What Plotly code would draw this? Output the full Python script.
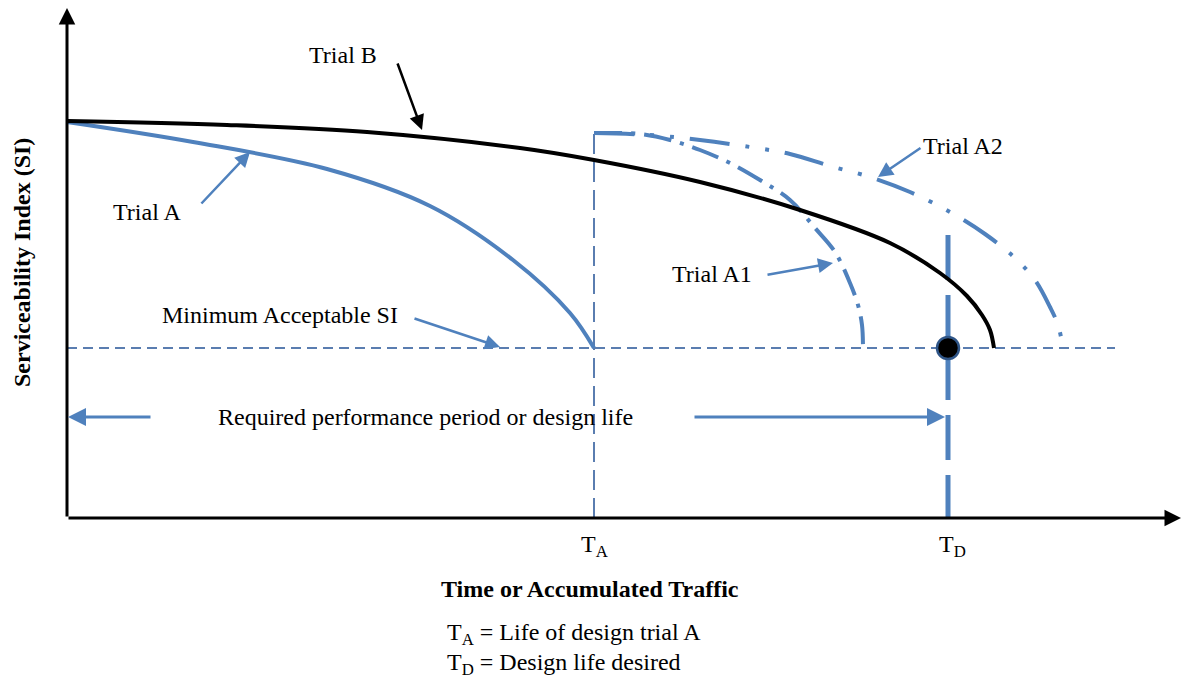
import plotly.graph_objects as go

# ---- data (x: time / accumulated traffic, y: serviceability index, arbitrary units) ----
trial_b_x = [0, 160, 300, 453, 527, 633, 733, 823, 873, 900, 915, 923, 927]
trial_b_y = [397, 393, 386, 370, 358, 336, 308, 275, 245, 222, 203, 188, 170]

trial_a_x = [0, 126, 260, 363, 446, 503, 527]
trial_a_y = [396, 376, 349, 312, 258, 205, 170]

trial_a1_x = [527, 573, 603, 633, 663, 693, 723, 748, 768, 783, 791, 795, 796]
trial_a1_y = [385, 384, 378, 368, 355, 338, 318, 290, 266, 235, 213, 193, 170]

trial_a2_x = [527, 583, 633, 683, 723, 763, 803, 843, 883, 918, 948, 968, 983, 991, 996]
trial_a2_y = [385, 383, 378, 371, 364, 352, 341, 326, 306, 284, 260, 238, 211, 193, 170]

min_si = 170
t_a = 527
t_d = 881
x_max = 1048
tick_vals = [t_a, t_d]
tick_text = ["T<sub>A</sub>", "T<sub>D</sub>"]

BLUE = "#4f81bd"
DBLUE = "#5a7db0"
FONT = "Liberation Serif"

fig = go.Figure()

# minimum SI dashed line
fig.add_trace(go.Scatter(x=[0, x_max], y=[min_si, min_si], mode="lines",
                         line=dict(color=DBLUE, width=2, dash="10px,6px"), hoverinfo="skip"))
# T_A dashed vertical
fig.add_trace(go.Scatter(x=[t_a, t_a], y=[0, trial_a1_y[0]], mode="lines",
                         line=dict(color=DBLUE, width=2, dash="20px,8px"), hoverinfo="skip"))
# T_D thick dashed vertical
fig.add_trace(go.Scatter(x=[t_d, t_d], y=[283, 0], mode="lines",
                         line=dict(color=BLUE, width=5, dash="45px,15px"), hoverinfo="skip"))
# Trial A1
fig.add_trace(go.Scatter(x=trial_a1_x, y=trial_a1_y, mode="lines", line_shape="spline",
                         line=dict(color=BLUE, width=4, dash="28px,9px,4px,9px", smoothing=1),
                         hoverinfo="skip"))
# Trial A2
fig.add_trace(go.Scatter(x=trial_a2_x, y=trial_a2_y, mode="lines", line_shape="spline",
                         line=dict(color=BLUE, width=4, dash="40px,16px,4px,16px,4px,16px",
                                   smoothing=1), hoverinfo="skip"))
# Trial A
fig.add_trace(go.Scatter(x=trial_a_x, y=trial_a_y, mode="lines", line_shape="spline",
                         line=dict(color=BLUE, width=4, smoothing=1), hoverinfo="skip"))
# Trial B
fig.add_trace(go.Scatter(x=trial_b_x, y=trial_b_y, mode="lines", line_shape="spline",
                         line=dict(color="black", width=4, smoothing=1), hoverinfo="skip"))
# design point
fig.add_trace(go.Scatter(x=[t_d], y=[min_si], mode="markers",
                         marker=dict(color="black", size=22, line=dict(color="#2f5587", width=2.5)),
                         hoverinfo="skip"))

ann = []


def arrow(x, y, ax, ay, color, width=2.5, head=2, size=1.2):
    ann.append(dict(x=x, y=y, ax=ax, ay=ay, xref="x", yref="y", axref="x", ayref="y",
                    text="", showarrow=True, arrowhead=head, arrowsize=size,
                    arrowwidth=width, arrowcolor=color, standoff=0, startstandoff=0))


def label(x, y, text, size=24, bold=False, xanchor="center", angle=0):
    ann.append(dict(x=x, y=y, xref="x", yref="y", text=("<b>%s</b>" % text) if bold else text,
                    showarrow=False, xanchor=xanchor, yanchor="middle", textangle=angle,
                    font=dict(family=FONT, size=size, color="black")))


# axes with arrows
arrow(0, 510, 0, 0, "black", width=3, head=2, size=1.1)
arrow(1114, 0, 0, 0, "black", width=3, head=2, size=1.1)

# annotation arrows
arrow(355, 388, 330, 456, "black")
arrow(183, 366, 133, 313, BLUE)
arrow(766, 255, 699, 243, BLUE)
arrow(811, 341, 855, 371, BLUE)
arrow(433, 171, 346, 200, BLUE)
arrow(1, 101, 85, 101, BLUE, width=3)
arrow(878, 101, 626, 101, BLUE, width=3)

label(276, 463, "Trial B")
label(80, 306, "Trial A")
label(645, 244, "Trial A1")
label(896, 372, "Trial A2")
label(213, 203, "Minimum Acceptable SI")
label(358, 101, "Required performance period or design life")
label(tick_vals[0], -28, tick_text[0])
label(tick_vals[1] + 4, -28, tick_text[1])
label(523, -71, "Time or Accumulated Traffic", bold=True)
label(378, -116, "T<sub>A</sub> = Life of design trial A", xanchor="left")
label(378, -146, "T<sub>D</sub> = Design life desired", xanchor="left")
label(-45, 255, "Serviceability Index (SI)", bold=True, angle=-90)

fig.update_layout(
    width=1183, height=682, autosize=False,
    margin=dict(l=0, r=0, t=0, b=0),
    paper_bgcolor="white", plot_bgcolor="white",
    showlegend=False,
    xaxis=dict(range=[-67, 1116], visible=False, fixedrange=True),
    yaxis=dict(range=[-164, 518], visible=False, fixedrange=True),
    annotations=ann,
)

fig.write_html("out.html", config={"displayModeBar": False},
               post_script="document.body.style.margin='0';document.body.style.overflow='hidden';")
